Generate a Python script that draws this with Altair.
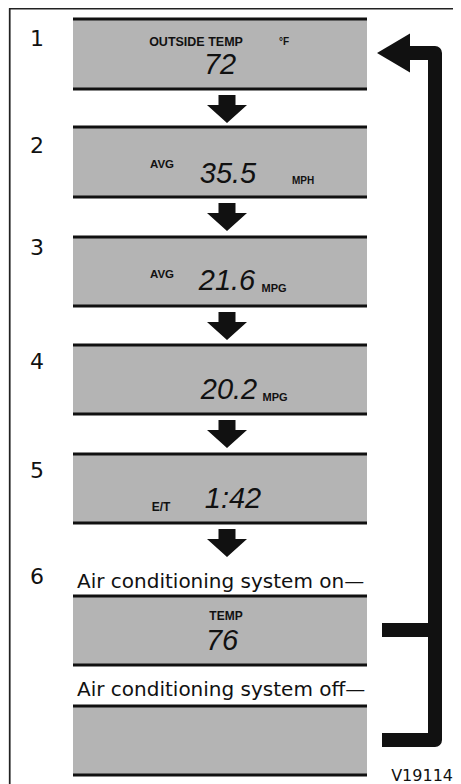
import altair as alt
import pandas as pd

# ---- content -------------------------------------------------------------
step_labels = ["1", "2", "3", "4", "5", "6"]
step_y = [39, 146, 248, 362, 471, 577]

box_tops = [19, 127, 237, 345, 454, 596, 706]
box_bottoms = [89, 197, 306, 414, 523, 665, 775]
arrow_boxes = [0, 1, 2, 3, 4]          # a down arrow follows these boxes

lcd_values = ["72", "35.5", "21.6", "20.2", "1:42", "76"]
lcd_x = [220, 228, 227, 229, 233, 222]
lcd_y = [65, 174, 281, 390, 499, 641]

tags = ["OUTSIDE TEMP", "°F", "AVG", "MPH", "AVG", "MPG", "MPG", "E/T", "TEMP"]
tag_x = [196, 284, 162, 303, 162, 274, 275, 161, 226]
tag_y = [42, 42, 165, 181, 275, 289, 398, 507, 616]
tag_size = [12.5, 10, 11.5, 10, 11.5, 11, 11, 12, 12]

captions = ["Air conditioning system on—", "Air conditioning system off—"]
caption_y = [582, 690]

code_label = ["V19114"]

# return loop: x, y, segment, order
loop_x = [410, 435, 435, 382, 382, 435]
loop_y = [53, 53, 740, 740, 630, 630]
loop_seg = ["a", "a", "a", "a", "b", "b"]
loop_ord = [0, 1, 2, 3, 0, 1]

# ---- scales (data units = page pixels) -----------------------------------
XS = alt.Scale(domain=[8, 453], nice=False, zero=False)
YS = alt.Scale(domain=[8, 784], nice=False, zero=False, reverse=True)


def X(f="x"):
    return alt.X(f"{f}:Q", scale=XS, axis=None)


def Y(f="y"):
    return alt.Y(f"{f}:Q", scale=YS, axis=None)


GRAY = "#b4b4b4"
INK = "#111111"

boxes = pd.DataFrame({"x": 73, "x2": 367, "y": box_tops, "y2": box_bottoms})
box_fill = alt.Chart(boxes).mark_rect(color=GRAY).encode(
    x=X(), x2="x2:Q", y=Y(), y2="y2:Q")

edges = pd.DataFrame({"x": 73, "x2": 367, "y": box_tops + box_bottoms})
box_edges = alt.Chart(edges).mark_rule(color=INK, strokeWidth=3).encode(
    x=X(), x2="x2:Q", y=Y())

down_path = "M-0.425,-0.7L0.425,-0.7L0.425,-0.2L1,-0.2L0,0.7L-1,-0.2L-0.425,-0.2Z"
arrows_df = pd.DataFrame({"x": 227, "y": [box_bottoms[i] + 20 for i in arrow_boxes]})
arrows = alt.Chart(arrows_df).mark_point(
    shape=down_path, size=1600, filled=True, color=INK, opacity=1, strokeWidth=0
).encode(x=X(), y=Y())

loop_df = pd.DataFrame({"x": loop_x, "y": loop_y, "seg": loop_seg, "o": loop_ord})
loop = alt.Chart(loop_df).mark_line(
    color=INK, strokeWidth=14, strokeJoin="round", strokeCap="butt"
).encode(x=X(), y=Y(), detail="seg:N", order="o:Q")

left_path = "M-0.825,0L0.825,-0.975L0.825,0.975Z"
head = alt.Chart(pd.DataFrame({"x": [393.5], "y": [53]})).mark_point(
    shape=left_path, size=1600, filled=True, color=INK, opacity=1, strokeWidth=0
).encode(x=X(), y=Y())

frame_top = alt.Chart(pd.DataFrame({"x": [9], "x2": [453], "y": [8.8]})).mark_rule(
    color="#222", strokeWidth=1.6).encode(x=X(), x2="x2:Q", y=Y())
frame_left = alt.Chart(pd.DataFrame({"x": [9.8], "y": [8], "y2": [784]})).mark_rule(
    color="#222", strokeWidth=1.6).encode(x=X(), y=Y(), y2="y2:Q")

steps = alt.Chart(pd.DataFrame({"t": step_labels, "x": 37, "y": step_y})).mark_text(
    font="DejaVu Sans", fontSize=22, color=INK, align="center", baseline="middle"
).encode(x=X(), y=Y(), text="t:N")

lcd = alt.Chart(pd.DataFrame({"t": lcd_values, "x": lcd_x, "y": lcd_y})).mark_text(
    font="Liberation Sans", fontStyle="italic", fontSize=29, color=INK,
    align="center", baseline="middle"
).encode(x=X(), y=Y(), text="t:N")

tag_chart = alt.Chart(pd.DataFrame({"t": tags, "x": tag_x, "y": tag_y, "s": tag_size})).mark_text(
    font="Liberation Sans", fontWeight="bold", color=INK, align="center", baseline="middle"
).encode(x=X(), y=Y(), text="t:N", size=alt.Size("s:Q", scale=None, legend=None))

caps = alt.Chart(pd.DataFrame({"t": captions, "x": 77, "y": caption_y})).mark_text(
    font="DejaVu Sans", fontSize=20, color=INK, align="left", baseline="middle"
).encode(x=X(), y=Y(), text="t:N")

code = alt.Chart(pd.DataFrame({"t": code_label, "x": 453, "y": [776]})).mark_text(
    font="DejaVu Sans", fontSize=16, color=INK, align="right", baseline="middle"
).encode(x=X(), y=Y(), text="t:N")

chart = alt.layer(
    frame_top, frame_left, box_fill, box_edges, arrows, loop, head,
    steps, lcd, tag_chart, caps, code
).properties(
    width=445, height=776, padding=0, autosize=alt.AutoSizeParams(type="none")
).configure_view(stroke=None).configure(background="white")

chart.save("out.html", embed_options={"renderer": "svg", "actions": False})
